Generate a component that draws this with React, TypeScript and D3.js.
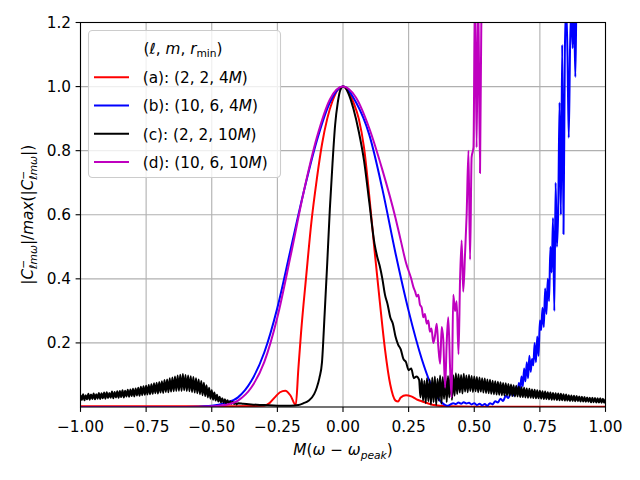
import * as d3 from "d3";

// frequency offset M(w - w_peak) on x, normalised |C| on y
const xTicks = [-1, -0.75, -0.5, -0.25, 0, 0.25, 0.5, 0.75, 1];
const yTicks = [0.2, 0.4, 0.6, 0.8, 1.0, 1.2];

// (a) (2,2,4M)
const redX = [-1.0, -0.5, -0.3, -0.28, -0.26, -0.24, -0.22, -0.2, -0.18, -0.17, -0.16, -0.14, -0.12, -0.1, -0.08, -0.06, -0.04, -0.02, 0, 0.02, 0.04, 0.06, 0.08, 0.1, 0.12, 0.14, 0.16, 0.18, 0.2, 0.21, 0.22, 0.24, 0.26, 0.28, 0.3, 0.34, 0.4, 0.5, 1.0];
const redY = [0.002, 0.002, 0.004, 0.012, 0.03, 0.046, 0.051, 0.036, 0.006, 0.12, 0.23, 0.41, 0.58, 0.71, 0.82, 0.9, 0.955, 0.99, 1.0, 0.985, 0.95, 0.9, 0.81, 0.66, 0.49, 0.33, 0.18, 0.07, 0.02, 0.017, 0.03, 0.037, 0.033, 0.024, 0.018, 0.007, 0.002, 0.001, 0.001];

// (b) (10,6,4M)
const blueX = [-1.0, -0.6, -0.5, -0.45, -0.4, -0.35, -0.3, -0.25, -0.2, -0.15, -0.1, -0.05, 0, 0.05, 0.1, 0.15, 0.2, 0.25, 0.3, 0.33, 0.36, 0.39,
  0.4, 0.41, 0.42, 0.43, 0.44, 0.45, 0.46, 0.47, 0.48, 0.49, 0.5, 0.51, 0.52, 0.53, 0.54, 0.55, 0.56, 0.57, 0.58, 0.59, 0.6, 0.61, 0.62, 0.63, 0.64, 0.65,
  0.66, 0.665, 0.67, 0.675, 0.68, 0.685, 0.69, 0.695, 0.7, 0.705, 0.71, 0.715, 0.72, 0.725, 0.73, 0.735, 0.74, 0.745, 0.75, 0.755, 0.76, 0.765, 0.77, 0.775,
  0.78, 0.785, 0.79, 0.795, 0.8, 0.805, 0.81, 0.815, 0.82, 0.825, 0.83, 0.835, 0.84, 0.845, 0.85, 0.855, 0.86, 0.865, 0.87, 0.875, 0.88, 0.885, 0.89, 0.9, 0.95, 1.0];
const blueY = [0.0, 0.0, 0.004, 0.012, 0.03, 0.08, 0.17, 0.31, 0.49, 0.67, 0.83, 0.95, 1.0, 0.95, 0.85, 0.68, 0.48, 0.3, 0.15, 0.08, 0.03, 0.006,
  0.004, 0.008, 0.012, 0.009, 0.014, 0.01, 0.015, 0.011, 0.013, 0.008, 0.012, 0.006, 0.01, 0.005, 0.009, 0.004, 0.012, 0.008, 0.018, 0.014, 0.026, 0.019, 0.035, 0.028, 0.045, 0.036,
  0.062, 0.045, 0.075, 0.055, 0.095, 0.065, 0.12, 0.08, 0.14, 0.09, 0.16, 0.11, 0.15, 0.13, 0.2, 0.14, 0.22, 0.16, 0.27, 0.24, 0.31, 0.25, 0.37, 0.29,
  0.4, 0.33, 0.5, 0.42, 0.59, 0.3, 0.7, 0.5, 0.62, 0.95, 0.6, 1.13, 0.54, 1.1, 1.25, 1.11, 0.84, 1.12, 1.25, 1.12, 1.26, 1.03, 1.3, 1.4, 1.5, 1.6];

// (c) (2,2,10M): noisy stretches sampled every 0.005
const noiseStep = 0.005;
const blackLeftStart = -1.0;
const blackLeftY = [
  0.038, 0.022, 0.04, 0.021, 0.037, 0.024, 0.041, 0.023, 0.039, 0.025,
  0.042, 0.024, 0.04, 0.026, 0.044, 0.025, 0.043, 0.027, 0.045, 0.026,
  0.046, 0.028, 0.044, 0.029, 0.048, 0.027, 0.047, 0.03, 0.049, 0.029,
  0.05, 0.031, 0.052, 0.03, 0.051, 0.033, 0.054, 0.032, 0.055, 0.034,
  0.057, 0.033, 0.058, 0.036, 0.06, 0.035, 0.063, 0.037, 0.065, 0.038,
  0.066, 0.039, 0.069, 0.04, 0.071, 0.041, 0.074, 0.043, 0.076, 0.042,
  0.078, 0.045, 0.08, 0.044, 0.084, 0.047, 0.086, 0.046, 0.09, 0.048,
  0.092, 0.049, 0.095, 0.05, 0.098, 0.051, 0.101, 0.05, 0.103, 0.052,
  0.1, 0.05, 0.098, 0.049, 0.096, 0.047, 0.094, 0.045, 0.09, 0.043,
  0.086, 0.04, 0.081, 0.037, 0.076, 0.034, 0.068, 0.03, 0.06, 0.026,
  0.052, 0.023, 0.045, 0.02, 0.038, 0.017, 0.032, 0.015, 0.027, 0.013,
  0.024, 0.012, 0.021, 0.011, 0.018, 0.01, 0.016, 0.009, 0.014, 0.008,
  0.012,
];
const blackMidX = [-0.38, -0.35, -0.3, -0.25, -0.2, -0.17, -0.15, -0.13, -0.11, -0.1, -0.09, -0.08, -0.07, -0.06, -0.05, -0.04, -0.03, -0.02, -0.01, 0, 0.01, 0.02, 0.04, 0.06, 0.08, 0.1, 0.12, 0.13, 0.14, 0.15, 0.16, 0.17, 0.18, 0.19, 0.2, 0.21, 0.22, 0.23, 0.24, 0.25, 0.26, 0.27, 0.28];
const blackMidY = [0.01, 0.008, 0.006, 0.004, 0.004, 0.006, 0.012, 0.02, 0.04, 0.06, 0.09, 0.14, 0.29, 0.45, 0.62, 0.76, 0.88, 0.95, 0.99, 1.0, 0.995, 0.98, 0.93, 0.86, 0.77, 0.64, 0.51, 0.47, 0.44, 0.4, 0.35, 0.32, 0.28, 0.26, 0.22, 0.195, 0.18, 0.15, 0.14, 0.115, 0.12, 0.09, 0.095];
const blackRightStart = 0.29;
const blackRightY = [
  0.085, 0.03, 0.088, 0.02, 0.082, 0.012, 0.09, 0.018, 0.086, 0.008,
  0.092, 0.015, 0.095, 0.006, 0.088, 0.02, 0.098, 0.01, 0.094, 0.025,
  0.1, 0.015, 0.097, 0.03, 0.104, 0.022, 0.099, 0.035, 0.105, 0.04,
  0.102, 0.045, 0.1, 0.042, 0.104, 0.048, 0.098, 0.046, 0.1, 0.05,
  0.097, 0.047, 0.095, 0.049, 0.094, 0.046, 0.092, 0.048, 0.09, 0.045,
  0.089, 0.044, 0.086, 0.043, 0.085, 0.041, 0.082, 0.04, 0.08, 0.039,
  0.079, 0.038, 0.077, 0.037, 0.075, 0.036, 0.074, 0.036, 0.072, 0.035,
  0.07, 0.034, 0.068, 0.033, 0.066, 0.033, 0.064, 0.031, 0.062, 0.031,
  0.06, 0.03, 0.058, 0.029, 0.057, 0.029, 0.055, 0.028, 0.054, 0.027,
  0.052, 0.027, 0.051, 0.026, 0.049, 0.025, 0.048, 0.025, 0.046, 0.024,
  0.045, 0.023, 0.044, 0.023, 0.043, 0.022, 0.042, 0.021, 0.041, 0.021,
  0.04, 0.02, 0.039, 0.02, 0.037, 0.019, 0.036, 0.019, 0.035, 0.018,
  0.034, 0.018, 0.033, 0.017, 0.032, 0.017, 0.031, 0.016, 0.03, 0.016,
  0.029, 0.015, 0.029, 0.015, 0.028, 0.014, 0.027, 0.014, 0.027, 0.013,
  0.026, 0.013, 0.025,
];

// (d) (10,6,10M)
const magentaX = [-1.0, -0.55, -0.5, -0.45, -0.4, -0.35, -0.3, -0.25, -0.2, -0.15, -0.1, -0.05, 0, 0.05, 0.1, 0.15, 0.2, 0.22, 0.24, 0.26,
  0.268, 0.275, 0.281, 0.287, 0.293, 0.3, 0.306, 0.312, 0.319, 0.325, 0.331, 0.337, 0.344, 0.35, 0.357, 0.363, 0.37, 0.376, 0.382, 0.389,
  0.395, 0.401, 0.408, 0.414, 0.42, 0.427, 0.433, 0.44, 0.446, 0.452, 0.458, 0.465, 0.471, 0.478, 0.484, 0.49, 0.497, 0.503, 0.509, 0.515, 0.522, 0.528, 0.56, 1.0];
const magentaY = [0.0, 0.0, 0.002, 0.006, 0.02, 0.06, 0.14, 0.28, 0.47, 0.67, 0.84, 0.96, 1.0, 0.965, 0.87, 0.74, 0.59, 0.52, 0.45, 0.4,
  0.375, 0.36, 0.345, 0.35, 0.32, 0.31, 0.28, 0.29, 0.26, 0.27, 0.235, 0.245, 0.2, 0.22, 0.26, 0.19, 0.135, 0.25, 0.21, 0.06,
  0.2, 0.28, 0.12, 0.03, 0.35, 0.3, 0.33, 0.165, 0.4, 0.52, 0.36, 0.48, 0.6, 0.8, 0.46, 0.78, 0.81, 1.3, 0.81, 1.3, 0.73, 1.3, 1.5, 1.6];

const W = 640;
const H = 480;
const left = 80.5;
const right = 605.5;
const top = 22.5;
const bottom = 407;
const FONT = "DejaVu Sans, sans-serif";
const FS = 15.3;
const SUB = 10.7;

const x = d3.scaleLinear().domain([-1, 1]).range([left, right]);
const y = d3.scaleLinear().domain([0, 1.2]).range([bottom, top]);

const zip = (xs: number[], ys: number[]) => xs.map((v, i) => [v, ys[i]] as [number, number]);
const grid = (start: number, ys: number[]) => ys.map((v, i) => [start + i * noiseStep, v] as [number, number]);

const series = [
  { key: "a", color: "#ff0000", pts: zip(redX, redY), label: ["(a): (2, 2, 4", ")"] },
  { key: "b", color: "#0000ff", pts: zip(blueX, blueY), label: ["(b): (10, 6, 4", ")"] },
  {
    key: "c", color: "#000000",
    pts: [...grid(blackLeftStart, blackLeftY), ...zip(blackMidX, blackMidY), ...grid(blackRightStart, blackRightY)],
    label: ["(c): (2, 2, 10", ")"],
  },
  { key: "d", color: "#bf00bf", pts: zip(magentaX, magentaY), label: ["(d): (10, 6, 10", ")"] },
];

const line = d3.line<[number, number]>()
  .x(d => x(d[0]))
  .y(d => y(d[1]))
  .curve(d3.curveMonotoneX);

const fmtX = (v: number) => (v < 0 ? "\u2212" : "") + Math.abs(v).toFixed(2);

export default function App() {
  const legX = 88.5;
  const legY = 30.5;
  const rowY = [77.3, 105.5, 133.7, 162];
  return (
    <svg width={W} height={H} style={{ position: "absolute", left: 0, top: 0, background: "#fff" }} fontFamily={FONT}>
      <defs>
        <clipPath id="plot-clip">
          <rect x={left} y={top} width={right - left} height={bottom - top} />
        </clipPath>
      </defs>
      <rect width={W} height={H} fill="#fff" />
      {/* grid */}
      <g stroke="#b0b0b0" strokeWidth={1.1}>
        {xTicks.map(t => <line key={"gx" + t} x1={x(t)} x2={x(t)} y1={top} y2={bottom} />)}
        {yTicks.map(t => <line key={"gy" + t} x1={left} x2={right} y1={y(t)} y2={y(t)} />)}
      </g>
      {/* curves */}
      <g clipPath="url(#plot-clip)" fill="none" strokeWidth={2} strokeLinejoin="round">
        {series.map(s => <path key={s.key} d={line(s.pts) || ""} stroke={s.color} />)}
      </g>
      {/* frame */}
      <rect x={left} y={top} width={right - left} height={bottom - top} fill="none" stroke="#000" strokeWidth={1.1} />
      {/* x axis */}
      <g fontSize={FS} textAnchor="middle">
        {xTicks.map(t => (
          <g key={"tx" + t}>
            <line x1={x(t)} x2={x(t)} y1={bottom} y2={bottom + 4.9} stroke="#000" strokeWidth={1.1} />
            <text x={x(t)} y={bottom + 24.5}>{fmtX(t)}</text>
          </g>
        ))}
      </g>
      {/* y axis */}
      <g fontSize={FS} textAnchor="end">
        {yTicks.map(t => (
          <g key={"ty" + t}>
            <line x1={left - 4.9} x2={left} y1={y(t)} y2={y(t)} stroke="#000" strokeWidth={1.1} />
            <text x={left - 9.5} y={y(t) + 5.5}>{t.toFixed(1)}</text>
          </g>
        ))}
      </g>
      {/* x label */}
      <text x={(left + right) / 2} y={455} fontSize={FS} textAnchor="middle">
        <tspan fontStyle="italic">M</tspan>(<tspan fontStyle="italic">ω</tspan> − <tspan fontStyle="italic">ω</tspan>
        <tspan fontStyle="italic" fontSize={SUB} dy={3.5}>peak</tspan>
        <tspan dy={-3.5}>)</tspan>
      </text>
      {/* y label */}
      <text transform={`translate(33,${(top + bottom) / 2}) rotate(-90)`} fontSize={FS} textAnchor="middle">
        |<tspan fontStyle="italic">C</tspan>
        <tspan fontSize={SUB} dy={-6.5}>−</tspan>
        <tspan fontSize={SUB} fontStyle="italic" dx={-9} dy={10}>ℓmω</tspan>
        <tspan dy={-3.5}>|/</tspan><tspan fontStyle="italic">max</tspan>(|<tspan fontStyle="italic">C</tspan>
        <tspan fontSize={SUB} dy={-6.5}>−</tspan>
        <tspan fontSize={SUB} fontStyle="italic" dx={-9} dy={10}>ℓmω</tspan>
        <tspan dy={-3.5}>|)</tspan>
      </text>
      {/* legend */}
      <g>
        <rect x={legX} y={legY} width={192} height={147} rx={4} fill="#fff" fillOpacity={0.8} stroke="#cccccc" strokeWidth={1.1} />
        <text x={183} y={53.5} fontSize={FS} textAnchor="middle">
          (<tspan fontStyle="italic">ℓ</tspan>, <tspan fontStyle="italic">m</tspan>, <tspan fontStyle="italic">r</tspan>
          <tspan fontSize={SUB} dy={3.5}>min</tspan><tspan dy={-3.5}>)</tspan>
        </text>
        {series.map((s, i) => (
          <g key={"lg" + s.key}>
            <line x1={94} x2={129} y1={rowY[i]} y2={rowY[i]} stroke={s.color} strokeWidth={2} />
            <text x={142.7} y={rowY[i] + 5.8} fontSize={FS}>
              {s.label[0]}<tspan fontStyle="italic">M</tspan>{s.label[1]}
            </text>
          </g>
        ))}
      </g>
    </svg>
  );
}
